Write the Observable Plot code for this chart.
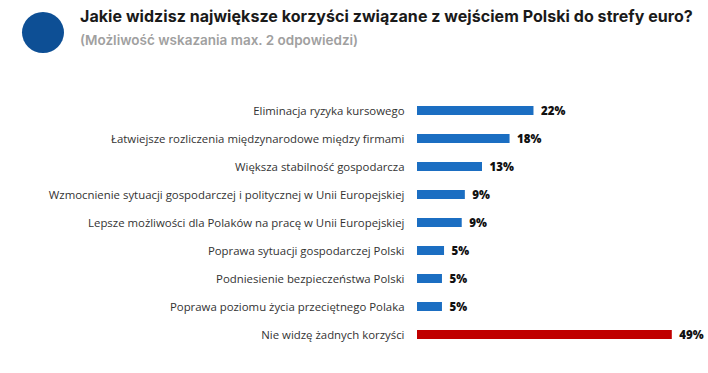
<!DOCTYPE html>
<html>
<head>
<meta charset="utf-8">
<script src="https://cdn.jsdelivr.net/npm/d3@7"></script>
<script src="https://cdn.jsdelivr.net/npm/@observablehq/plot@0.6"></script>
<style>
  body { margin: 0; background: #fff; width: 708px; height: 373px; overflow: hidden; font-family: "Open Sans", sans-serif; }
  #header { position: relative; height: 60px; }
  #dot { position: absolute; left: 22px; top: 12px; width: 42px; height: 41px; border-radius: 50%; background: #0d4f95; }
  #title { position: absolute; left: 80px; top: 6px; font-family: Inter, sans-serif; font-weight: 700; font-size: 16px; color: #1a1a1a; white-space: nowrap; letter-spacing: 0.05px; }
  #subtitle { position: absolute; left: 80px; top: 32px; font-family: Inter, sans-serif; font-weight: 600; font-size: 13.5px; color: #a0a0a0; white-space: nowrap; }
</style>
</head>
<body>
<div id="header">
  <div id="dot"></div>
  <div id="title">Jakie widzisz największe korzyści związane z wejściem Polski do strefy euro?</div>
  <div id="subtitle">(Możliwość wskazania max. 2 odpowiedzi)</div>
</div>
<div id="chart"></div>
<script>
const categories = [
  "Eliminacja ryzyka kursowego",
  "Łatwiejsze rozliczenia międzynarodowe między firmami",
  "Większa stabilność gospodarcza",
  "Wzmocnienie sytuacji gospodarczej i politycznej w Unii Europejskiej",
  "Lepsze możliwości dla Polaków na pracę w Unii Europejskiej",
  "Poprawa sytuacji gospodarczej Polski",
  "Podniesienie bezpieczeństwa Polski",
  "Poprawa poziomu życia przeciętnego Polaka",
  "Nie widzę żadnych korzyści"
];
const values = [22.4, 17.8, 12.5, 9.2, 8.6, 5.2, 4.8, 4.8, 49.0];
const labels = ["22%", "18%", "13%", "9%", "9%", "5%", "5%", "5%", "49%"];
const groups = ["benefit", "benefit", "benefit", "benefit", "benefit", "benefit", "benefit", "benefit", "none"];

const data = categories.map((c, i) => ({category: c, value: values[i], label: labels[i], group: groups[i]}));

const chart = Plot.plot({
  width: 708,
  height: 313,
  marginLeft: 417,
  marginRight: 31,
  marginTop: 35,
  marginBottom: 23,
  style: {fontFamily: "'Open Sans', sans-serif", background: "#fff"},
  x: {domain: [0, 50], axis: null},
  y: {domain: categories, paddingInner: 0.68, paddingOuter: 0.34, label: null},
  color: {domain: ["benefit", "none"], range: ["#1b6ec2", "#c00000"]},
  marks: [
    Plot.axisY({tickSize: 0, tickPadding: 13, fontSize: 11.4, color: "#333", label: null}),
    Plot.barX(data, {x: "value", y: "category", fill: "group"}),
    Plot.text(data, {x: "value", y: "category", text: "label", textAnchor: "start", dx: 7, fontSize: 11.5, fontWeight: 800, fill: "#111"})
  ]
});
document.getElementById("chart").appendChild(chart);
</script>
</body>
</html>
